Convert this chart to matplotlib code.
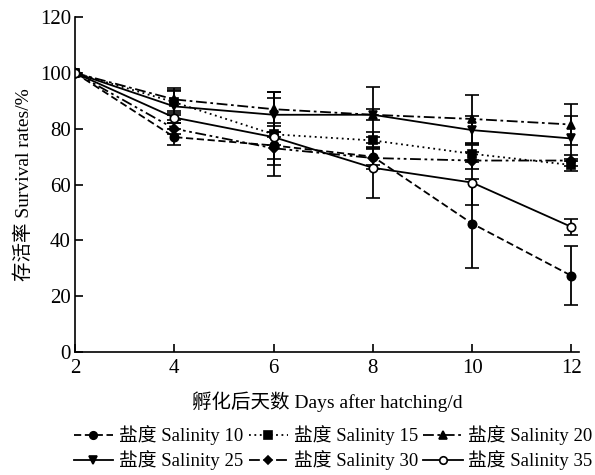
import matplotlib
matplotlib.use("Agg")
import matplotlib.pyplot as plt

plt.rcParams['font.family'] = ['Liberation Serif', 'Noto Sans CJK SC', 'DejaVu Sans']

days = [2, 4, 6, 8, 10, 12]
labels = ['盐度 Salinity 10', '盐度 Salinity 15', '盐度 Salinity 20',
          '盐度 Salinity 25', '盐度 Salinity 30', '盐度 Salinity 35']
s10 = [100, 77, 74, 70, 46, 27.3]
s15 = [100, 89.5, 78, 75.8, 71, 67]
s20 = [100, 90.5, 87, 85, 83.5, 81.5]
s25 = [100, 88, 85, 85, 79.5, 76.5]
s30 = [100, 80, 73, 69.5, 68.6, 68.6]
s35 = [100, 84, 77, 66, 60.7, 44.8]
e10 = [0, 3, 5, 3, 16, 10.5]
e15 = [0, 4, 4, 3, 3, 2]
e20 = [0, 4, 6, 2, 8.5, 7.5]
e25 = [0, 6, 8, 10, 5, 8]
e30 = [0, 2, 6, 4, 3, 2]
e35 = [0, 1, 14, 11, 8, 3]
yticks = [0, 20, 40, 60, 80, 100, 120]

series = [s10, s15, s20, s25, s30, s35]
errors = [e10, e15, e20, e25, e30, e35]
styles = [
    dict(ls=(0, (4, 2)), marker='o', mfc='black'),
    dict(ls=(0, (1, 2)), marker='s', mfc='black'),
    dict(ls=(0, (6, 2, 1.5, 2)), marker='^', mfc='black'),
    dict(ls='-', marker='v', mfc='black'),
    dict(ls=(0, (6, 2, 1.5, 2, 1.5, 2)), marker='D', mfc='black'),
    dict(ls='-', marker='o', mfc='white'),
]

fig = plt.figure(figsize=(5.95, 4.75), dpi=100)
ax = fig.add_axes([0.126, 0.259, 0.847, 0.705])

handles = []
for ys, es, st, lab in zip(series, errors, styles, labels):
    ms = 5 if st['marker'] == 'D' else 6
    h = ax.errorbar(days, ys, yerr=es, color='black', ecolor='black',
                    elinewidth=1.3, capsize=5, capthick=1.3,
                    linestyle=st['ls'], linewidth=1.3, marker=st['marker'],
                    markersize=ms, markerfacecolor=st['mfc'],
                    markeredgecolor='black', markeredgewidth=1.2, label=lab)
    handles.append(h.lines[0])

ax.set_xlim(2, 12.15)
ax.set_ylim(0, 120)
ax.set_xticks(days)
ax.set_yticks(yticks)
ax.spines['top'].set_visible(False)
ax.spines['right'].set_visible(False)
for sp in ['left', 'bottom']:
    ax.spines[sp].set_linewidth(1.2)
ax.tick_params(direction='in', length=6, width=1.2, labelsize=15)
ax.tick_params(axis='x', pad=5)
ax.tick_params(axis='y', pad=3)

ax.set_xlabel('孵化后天数 Days after hatching/d', fontsize=14, labelpad=10)
ax.set_ylabel('存活率 Survival rates/%', fontsize=14, labelpad=5)

# row-major order for a 3-column legend
order = [0, 3, 1, 4, 2, 5]
fig.legend(handles=[handles[i] for i in order], labels=[labels[i] for i in order],
           loc='upper center', bbox_to_anchor=(0.56, 0.12), ncol=3,
           frameon=False, fontsize=13.5, handlelength=2.1, handletextpad=0.3,
           columnspacing=0.3, labelspacing=0.25, borderaxespad=0, markerscale=0.9)

fig.savefig('out.png', dpi=100)
